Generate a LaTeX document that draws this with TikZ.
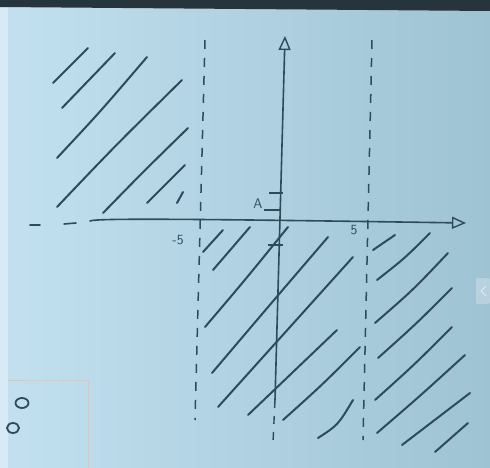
\documentclass[tikz,border=0pt]{standalone}
\usetikzlibrary{arrows.meta}
\definecolor{ink}{HTML}{2E4B5A}
\definecolor{paperL}{HTML}{C2E0F0}
\definecolor{paperR}{HTML}{9EC3D3}
\definecolor{band}{HTML}{26343C}
\tikzset{
  hatch/.style={ink, line width=2pt, line cap=round},
  axisline/.style={ink, line width=1.6pt, line cap=round},
  guide/.style={ink, line width=1.5pt, dash pattern=on 9pt off 9pt},
  tickmark/.style={ink, line width=1.4pt},
  lbl/.style={ink, font=\sffamily\fontsize{14}{14}\selectfont, inner sep=0pt},
  tip/.style={-{Triangle[open, length=14pt, width=12pt, line width=1.4pt]}}
}
\begin{document}
\begin{tikzpicture}[x=1pt, y=-1pt]
\useasboundingbox (0,0) rectangle (490,468);
% paper
\shade[left color=paperL, right color=paperR] (0,0) rectangle (490,468);
\fill[white, opacity=0.35] (0,0) rectangle (8,468);
\fill[band] (0,0) -- (490,0) -- (490,11) -- (0,7) -- cycle;
% card at bottom left
\draw[gray!40, line width=0.8pt] (8,380) -- (88,380) -- (88,468);
\draw[ink, line width=1.8pt] (22,403) ellipse (6.5pt and 5pt);
\draw[ink, line width=1.8pt] (13,428) ellipse (6pt and 5pt);
% right edge tab
\fill[white, opacity=0.25, rounded corners=2pt] (476,278) rectangle (490,304);
\draw[white, opacity=0.6, line width=1pt] (486,286) -- (481,291) -- (486,296);

% coordinates
\coordinate (xl1a) at (30,225); \coordinate (xl1b) at (40,225);
\coordinate (xl2a) at (64,224); \coordinate (xl2b) at (76,223);
\coordinate (xs) at (90,221);
\coordinate (xe) at (466,223);
\coordinate (ys) at (275,400);
\coordinate (ye) at (285,36);
\coordinate (yb) at (273,442);
\coordinate (m5t) at (205,40); \coordinate (m5b) at (195,420);
\coordinate (p5t) at (372,40); \coordinate (p5b) at (363,440);

% dashed guides
\draw[guide] (m5t) -- (m5b);
\draw[guide] (p5t) -- (p5b);

% axes
\draw[axisline] (xl1a) -- (xl1b);
\draw[axisline] (xl2a) -- (xl2b);
\draw[axisline, tip] (xs) .. controls (95,218) and (200,219) .. (xe);
\draw[axisline, tip] (ys) -- (ye);
\draw[guide, line width=1.4pt, dash pattern=on 8pt off 8pt] (ys) -- (yb);

% ticks and labels
\coordinate (t1a) at (269,193); \coordinate (t1b) at (283,193);
\coordinate (t2a) at (264,210); \coordinate (t2b) at (281,210);
\coordinate (t3a) at (268,245); \coordinate (t3b) at (283,245);
\draw[tickmark] (t1a) -- (t1b);
\draw[tickmark] (t2a) -- (t2b);
\draw[tickmark] (t3a) -- (t3b);
\node[lbl] (A) at (258,204) {A};
\node[lbl] (m5) at (178,240) {-5};
\node[lbl] (p5) at (354,230) {5};

% hatches left region
\draw[hatch] (53,83) -- (88,48);
\draw[hatch] (62,108) -- (115,53);
\draw[hatch] (57,158) .. controls (100,112) .. (147,57);
\draw[hatch] (57,207) .. controls (115,146) .. (182,80);
\draw[hatch] (103,213) .. controls (143,172) .. (188,128);
\draw[hatch] (147,203) -- (185,165);
\draw[hatch] (177,203) -- (183,192);

% hatches middle region
\draw[hatch] (203,252) -- (223,230);
\draw[hatch] (213,270) -- (250,227);
\draw[hatch] (205,327) .. controls (245,280) .. (288,227);
\draw[hatch] (212,373) .. controls (268,307) .. (328,237);
\draw[hatch] (218,407) .. controls (285,332) .. (353,257);
\draw[hatch] (248,415) .. controls (293,373) .. (337,330);
\draw[hatch] (283,420) .. controls (322,385) .. (360,347);
\draw[hatch] (318,438) .. controls (338,425) .. (353,400);

% hatches right region
\draw[hatch] (373,250) -- (395,235);
\draw[hatch] (377,280) .. controls (405,258) .. (430,233);
\draw[hatch] (375,323) .. controls (413,290) .. (448,253);
\draw[hatch] (378,358) .. controls (416,324) .. (452,288);
\draw[hatch] (375,400) .. controls (414,365) .. (452,327);
\draw[hatch] (377,433) .. controls (420,396) .. (465,355);
\draw[hatch] (402,445) -- (470,393);
\draw[hatch] (435,452) -- (468,423);
\end{tikzpicture}
\end{document}
